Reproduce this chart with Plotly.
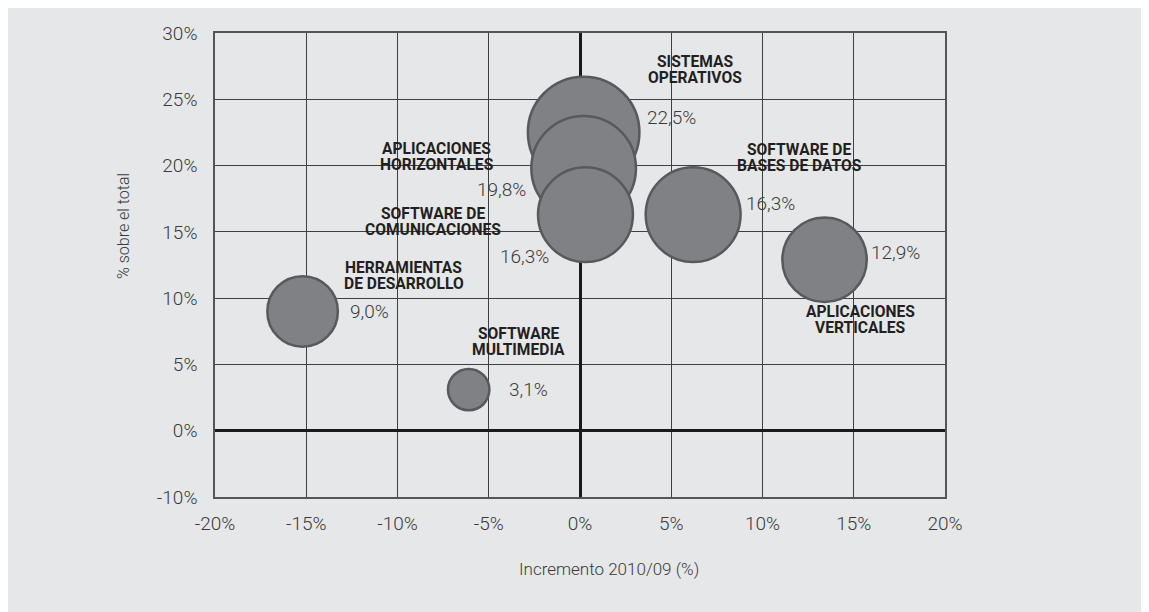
import plotly.graph_objects as go

# ---- data ----
categorias = ["SISTEMAS OPERATIVOS", "APLICACIONES HORIZONTALES", "SOFTWARE DE COMUNICACIONES",
              "SOFTWARE DE BASES DE DATOS", "APLICACIONES VERTICALES",
              "HERRAMIENTAS DE DESARROLLO", "SOFTWARE MULTIMEDIA"]
etiquetas = [["SISTEMAS", "OPERATIVOS"], ["APLICACIONES", "HORIZONTALES"],
             ["SOFTWARE DE", "COMUNICACIONES"], ["SOFTWARE DE", "BASES DE DATOS"],
             ["APLICACIONES", "VERTICALES"], ["HERRAMIENTAS", "DE DESARROLLO"],
             ["SOFTWARE", "MULTIMEDIA"]]
incremento = [0.2, 0.2, 0.3, 6.2, 13.4, -15.2, -6.1]      # % increase 2010/09
cuota = [22.5, 19.8, 16.3, 16.3, 12.9, 9.0, 3.1]          # % share of total

x_ticks = [-20, -15, -10, -5, 0, 5, 10, 15, 20]
x_ticktext = ["-20%", "-15%", "-10%", "-5%", "0%", "5%", "10%", "15%", "20%"]
y_ticks = [-5, 0, 5, 10, 15, 20, 25, 30]
y_ticktext = ["-10%", "0%", "5%", "10%", "15%", "20%", "25%", "30%"]

# ---- layout / styling (pixel offsets of the labels relative to each bubble) ----
name_off = [(111, 62.5, "center"), (-147, 11, "center"), (-152.5, -7, "center"),
            (106, 57, "center"), (35.5, -60, "center"), (101, 35.7, "center"), (50, 47.5, "center")]
val_off = [(61, 14.5, "left"), (-56, -21.6, "right"), (-34.5, -42, "right"),
           (51, 11, "left"), (44.5, 7, "left"), (45.4, 0, "left"), (38, 0, "left")]

BG = "#e6e7e8"
LIGHT = dict(family="Roboto, Lato, sans-serif", size=19, color="#3a3a3a", weight=300)
BOLD = dict(family="Roboto, Arial, sans-serif", size=15.6, color="#231f20", weight=700)

fig = go.Figure()
fig.add_trace(go.Scatter(
    x=incremento, y=cuota, mode="markers", text=categorias, hoverinfo="text",
    marker=dict(size=cuota, sizemode="area", sizeref=0.00362, color="#808184",
                opacity=1, line=dict(color="#58595b", width=2.5)),
    showlegend=False))

ann = []
for i in range(len(categorias)):
    dx, dy, anc = name_off[i]
    lines = etiquetas[i]
    n = len(lines)
    for j, ln in enumerate(lines):
        ann.append(dict(x=incremento[i], y=cuota[i], xref="x", yref="y", text=ln,
                        showarrow=False, xanchor=anc, yanchor="middle",
                        xshift=dx, yshift=dy + (n - 1) / 2 * 16 - j * 16, font=BOLD))
    vdx, vdy, vanc = val_off[i]
    ann.append(dict(x=incremento[i], y=cuota[i], xref="x", yref="y",
                    text=f"{cuota[i]:.1f}".replace(".", ",") + "%",
                    showarrow=False, xanchor=vanc, yanchor="middle",
                    xshift=vdx, yshift=vdy, font=LIGHT))

ann.append(dict(x=0.5397, y=-0.155, xref="paper", yref="paper", text="Incremento 2010/09 (%)",
                showarrow=False, xanchor="center", yanchor="middle",
                font=dict(family="Roboto, Lato, sans-serif", size=17, color="#3a3a3a", weight=300)))
ann.append(dict(x=-0.126, y=0.584, xref="paper", yref="paper", text="% sobre el total",
                showarrow=False, xanchor="center", yanchor="middle", textangle=-90,
                font=dict(family="Roboto, Lato, sans-serif", size=16, color="#3a3a3a", weight=300)))

axis_common = dict(showgrid=True, gridcolor="#3f3f3f", gridwidth=1.4,
                   zeroline=True, zerolinecolor="#1a1a1a", zerolinewidth=3,
                   showline=True, mirror=True, linecolor="#555555", linewidth=1.5,
                   ticks="", tickfont=LIGHT, fixedrange=True)

fig.update_layout(
    width=1149, height=612,
    margin=dict(l=207, r=212, t=25, b=123),
    paper_bgcolor=BG, plot_bgcolor=BG,
    xaxis=dict(range=[-20, 20], tickvals=x_ticks, ticktext=x_ticktext, **axis_common),
    yaxis=dict(range=[-5, 30], tickvals=y_ticks, ticktext=y_ticktext, **axis_common),
    annotations=ann,
)
fig.update_xaxes(ticklabelstandoff=8)
fig.update_yaxes(ticklabelstandoff=12)

fig.write_html("out.html")
